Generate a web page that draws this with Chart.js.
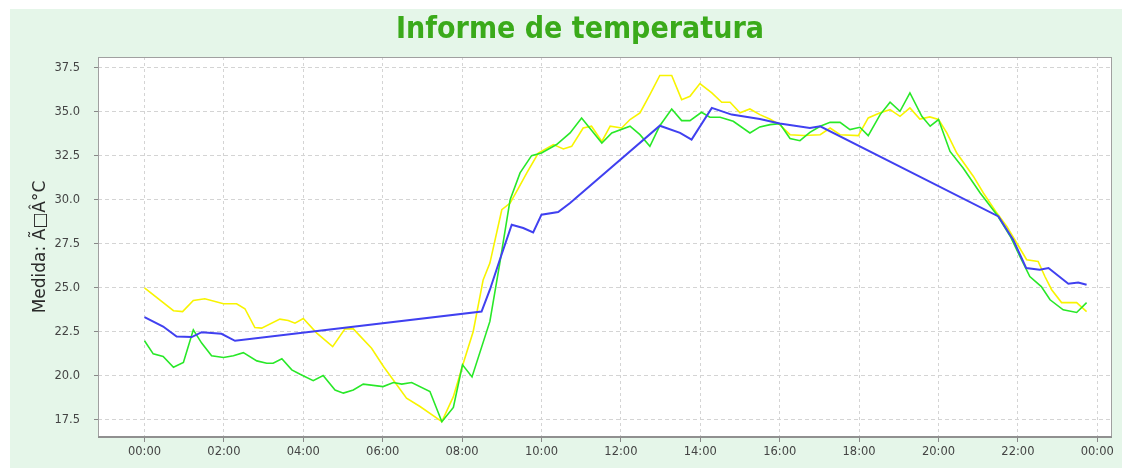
<!DOCTYPE html>
<html>
<head>
<meta charset="utf-8">
<script src="https://cdn.jsdelivr.net/npm/chart.js"></script>
<style>
html,body{margin:0;padding:0;background:#fff;}
#wrap{width:1133px;height:468px;position:relative;}
</style>
</head>
<body>
<div id="wrap"><canvas id="c" width="1133" height="468"></canvas></div>
<script>
const titleText = "Informe de temperatura";
const yAxisTitle = "Medida: Ã□Â°C";
const xTickHours = [0, 2, 4, 6, 8, 10, 12, 14, 16, 18, 20, 22, 24];
const yTickValues = [17.5, 20.0, 22.5, 25.0, 27.5, 30.0, 32.5, 35.0, 37.5];

const yellowTimes = [0, 0.73, 0.96, 1.23, 1.52, 1.99, 2.32, 2.53, 2.78, 2.95,
  3.41, 3.62, 3.79, 4.0, 4.34, 4.74, 5.05, 5.26, 5.72, 6.02,
  6.6, 6.94, 7.49, 7.78, 8.03, 8.28, 8.53, 8.7, 9.0, 9.21,
  9.42, 9.63, 9.92, 10.3, 10.55, 10.76, 11.05, 11.26, 11.52, 11.73,
  12.02, 12.23, 12.48, 12.73, 12.98, 13.28, 13.53, 13.74, 13.99, 14.29,
  14.54, 14.75, 15.0, 15.25, 15.5, 15.75, 16.0, 16.26, 16.6, 17.02,
  17.27, 17.52, 17.98, 18.23, 18.53, 18.78, 19.03, 19.28, 19.53, 19.78,
  20.0, 20.21, 20.46, 20.88, 21.13, 21.47, 21.72, 21.97, 22.22, 22.51,
  22.68, 22.85, 23.1, 23.48, 23.73];
const yellowValues = [25.0, 23.7, 23.65, 24.28, 24.38, 24.09, 24.09, 23.81, 22.74, 22.71,
  23.22, 23.14, 22.99, 23.26, 22.43, 21.66, 22.67, 22.67, 21.57, 20.53,
  18.73, 18.26, 17.4, 18.82, 20.72, 22.52, 25.45, 26.4, 29.43, 29.81,
  30.66, 31.52, 32.65, 33.13, 32.88, 33.03, 34.07, 34.17, 33.31, 34.17,
  34.07, 34.55, 34.93, 35.97, 37.05, 37.05, 35.68, 35.87, 36.59, 36.06,
  35.53, 35.53, 34.93, 35.15, 34.83, 34.58, 34.26, 33.69, 33.64, 33.69,
  34.07, 33.69, 33.64, 34.64, 34.93, 35.11, 34.73, 35.21, 34.58, 34.7,
  34.55, 33.79, 32.65, 31.32, 30.38, 29.24, 28.48, 27.54, 26.59, 26.49,
  25.64, 24.89, 24.16, 24.16, 23.65];

const greenTimes = [0, 0.22, 0.47, 0.73, 0.98, 1.23, 1.44, 1.69, 1.99, 2.24,
  2.49, 2.83, 3.08, 3.24, 3.46, 3.71, 3.92, 4.25, 4.5, 4.8,
  5.01, 5.26, 5.51, 6.01, 6.27, 6.48, 6.73, 7.19, 7.49, 7.78,
  8.01, 8.25, 8.7, 8.95, 9.21, 9.46, 9.75, 10.0, 10.38, 10.72,
  11.01, 11.52, 11.77, 12.23, 12.48, 12.73, 12.98, 13.28, 13.53, 13.74,
  14.03, 14.24, 14.5, 14.83, 15.25, 15.5, 15.76, 16.0, 16.26, 16.51,
  16.76, 17.02, 17.27, 17.52, 17.77, 18.02, 18.23, 18.53, 18.78, 19.03,
  19.28, 19.58, 19.79, 20.0, 20.29, 20.62, 21.05, 21.47, 21.81, 22.05,
  22.3, 22.59, 22.81, 23.14, 23.48, 23.73];
const greenValues = [21.99, 21.25, 21.1, 20.49, 20.76, 22.61, 21.86, 21.14, 21.04, 21.14,
  21.32, 20.85, 20.72, 20.72, 20.97, 20.34, 20.09, 19.73, 20.02, 19.2,
  19.02, 19.2, 19.53, 19.39, 19.62, 19.53, 19.62, 19.11, 17.4, 18.21,
  20.63, 19.94, 23.09, 26.4, 30.0, 31.52, 32.5, 32.65, 33.13, 33.79,
  34.64, 33.22, 33.79, 34.17, 33.69, 33.03, 34.2, 35.15, 34.49, 34.49,
  34.96, 34.68, 34.68, 34.45, 33.79, 34.13, 34.26, 34.32, 33.47, 33.35,
  33.82, 34.17, 34.39, 34.39, 33.98, 34.11, 33.64, 34.83, 35.53, 35.02,
  36.06, 34.73, 34.17, 34.55, 32.74, 31.8, 30.38, 29.15, 27.91, 26.78,
  25.64, 25.07, 24.32, 23.75, 23.6, 24.16];

const blueTimes = [0, 0.47, 0.81, 1.19, 1.44, 1.94, 2.28, 8.49, 8.7, 8.95,
  9.25, 9.54, 9.79, 10.0, 10.42, 10.72, 12.98, 13.49, 13.78, 14.29,
  14.79, 15.5, 16.0, 16.76, 17.02, 21.51, 21.88, 22.21, 22.55, 22.77,
  23.27, 23.52, 23.73];
const blueValues = [23.34, 22.8, 22.23, 22.2, 22.48, 22.39, 21.99, 23.65, 24.89, 26.59,
  28.58, 28.39, 28.14, 29.15, 29.3, 29.81, 34.2, 33.79, 33.41, 35.21,
  34.83, 34.58, 34.32, 34.07, 34.17, 29.05, 27.73, 26.12, 26.02, 26.12,
  25.23, 25.3, 25.17];

function pts(t, v) { return t.map((h, i) => ({x: h, y: v[i]})); }

const bgPlugin = {
  id: 'bg',
  beforeDraw(chart) {
    const ctx = chart.ctx, a = chart.chartArea;
    ctx.save();
    ctx.fillStyle = '#ffffff';
    ctx.fillRect(0, 0, chart.width, chart.height);
    ctx.fillStyle = '#e5f6e9';
    ctx.fillRect(10, 9, 1112, 459);
    ctx.fillStyle = '#ffffff';
    ctx.fillRect(a.left, a.top, a.right - a.left, a.bottom - a.top);
    ctx.restore();
  },
  afterDraw(chart) {
    const ctx = chart.ctx, a = chart.chartArea;
    ctx.save();
    ctx.strokeStyle = '#a0a0a0';
    ctx.lineWidth = 1;
    ctx.strokeRect(a.left + 0.5, a.top + 0.5, a.right - a.left - 1, a.bottom - a.top - 1);
    ctx.strokeStyle = '#909090';
    ctx.lineWidth = 2;
    ctx.beginPath();
    ctx.moveTo(a.left, a.bottom);
    ctx.lineTo(a.right, a.bottom);
    ctx.stroke();
    ctx.restore();
  }
};

function keepTicks(list) {
  return function(scale) {
    scale.ticks = list.map(v => ({value: v}));
  };
}

new Chart(document.getElementById('c'), {
  type: 'line',
  data: {
    datasets: [
      {label: 'B', data: pts(blueTimes, blueValues), borderColor: 'rgb(64,64,240)', borderWidth: 2, pointRadius: 0, tension: 0, fill: false},
      {label: 'G', data: pts(greenTimes, greenValues), borderColor: 'rgb(40,232,40)', borderWidth: 1.6, pointRadius: 0, tension: 0, fill: false},
      {label: 'Y', data: pts(yellowTimes, yellowValues), borderColor: 'rgb(248,244,0)', borderWidth: 1.6, pointRadius: 0, tension: 0, fill: false}
    ]
  },
  options: {
    responsive: false,
    animation: false,
    devicePixelRatio: 1,
    layout: {padding: {left: 29, right: 2, top: 10, bottom: 0}},
    plugins: {
      legend: {display: false},
      tooltip: {enabled: false},
      title: {
        display: true,
        text: titleText,
        color: 'rgb(58,170,26)',
        font: {family: 'DejaVu Sans Condensed', weight: 'bold', size: 30, lineHeight: 1.2},
        padding: {top: 2, bottom: 9}
      }
    },
    scales: {
      x: {
        type: 'linear',
        min: -1.171,
        max: 24.37,
        afterFit(scale) { scale.height = 31; },
        afterBuildTicks: keepTicks(xTickHours),
        ticks: {
          autoSkip: false,
          maxRotation: 0,
          padding: 3,
          color: '#444',
          font: {family: 'DejaVu Sans', size: 11.5},
          callback: (v) => String(v % 24).padStart(2, '0') + ':00'
        },
        grid: {color: '#d4d4d4', tickLength: 5, tickColor: '#888', tickBorderDash: []},
        border: {display: false, dash: [3, 3]}
      },
      y: {
        type: 'linear',
        min: 16.53,
        max: 38.1,
        afterFit(scale) { scale.width = 69; },
        afterBuildTicks: keepTicks(yTickValues),
        title: {
          display: true,
          text: yAxisTitle,
          color: '#2a2a2a',
          font: {family: 'DejaVu Sans', size: 17, lineHeight: 1.2},
          padding: {top: 1, bottom: 0}
        },
        ticks: {
          padding: 14,
          color: '#444',
          font: {family: 'DejaVu Sans', size: 11.5},
          callback: (v) => Number(v).toFixed(1)
        },
        grid: {color: '#d4d4d4', tickLength: 4, tickColor: '#888', tickBorderDash: []},
        border: {display: false, dash: [4, 3]}
      },
      yRight: {
        type: 'linear',
        position: 'right',
        display: true,
        afterFit(scale) { scale.width = 19; },
        ticks: {display: false},
        grid: {display: false, drawOnChartArea: false, drawTicks: false},
        border: {display: false}
      }
    }
  },
  plugins: [bgPlugin]
});
</script>
</body>
</html>
